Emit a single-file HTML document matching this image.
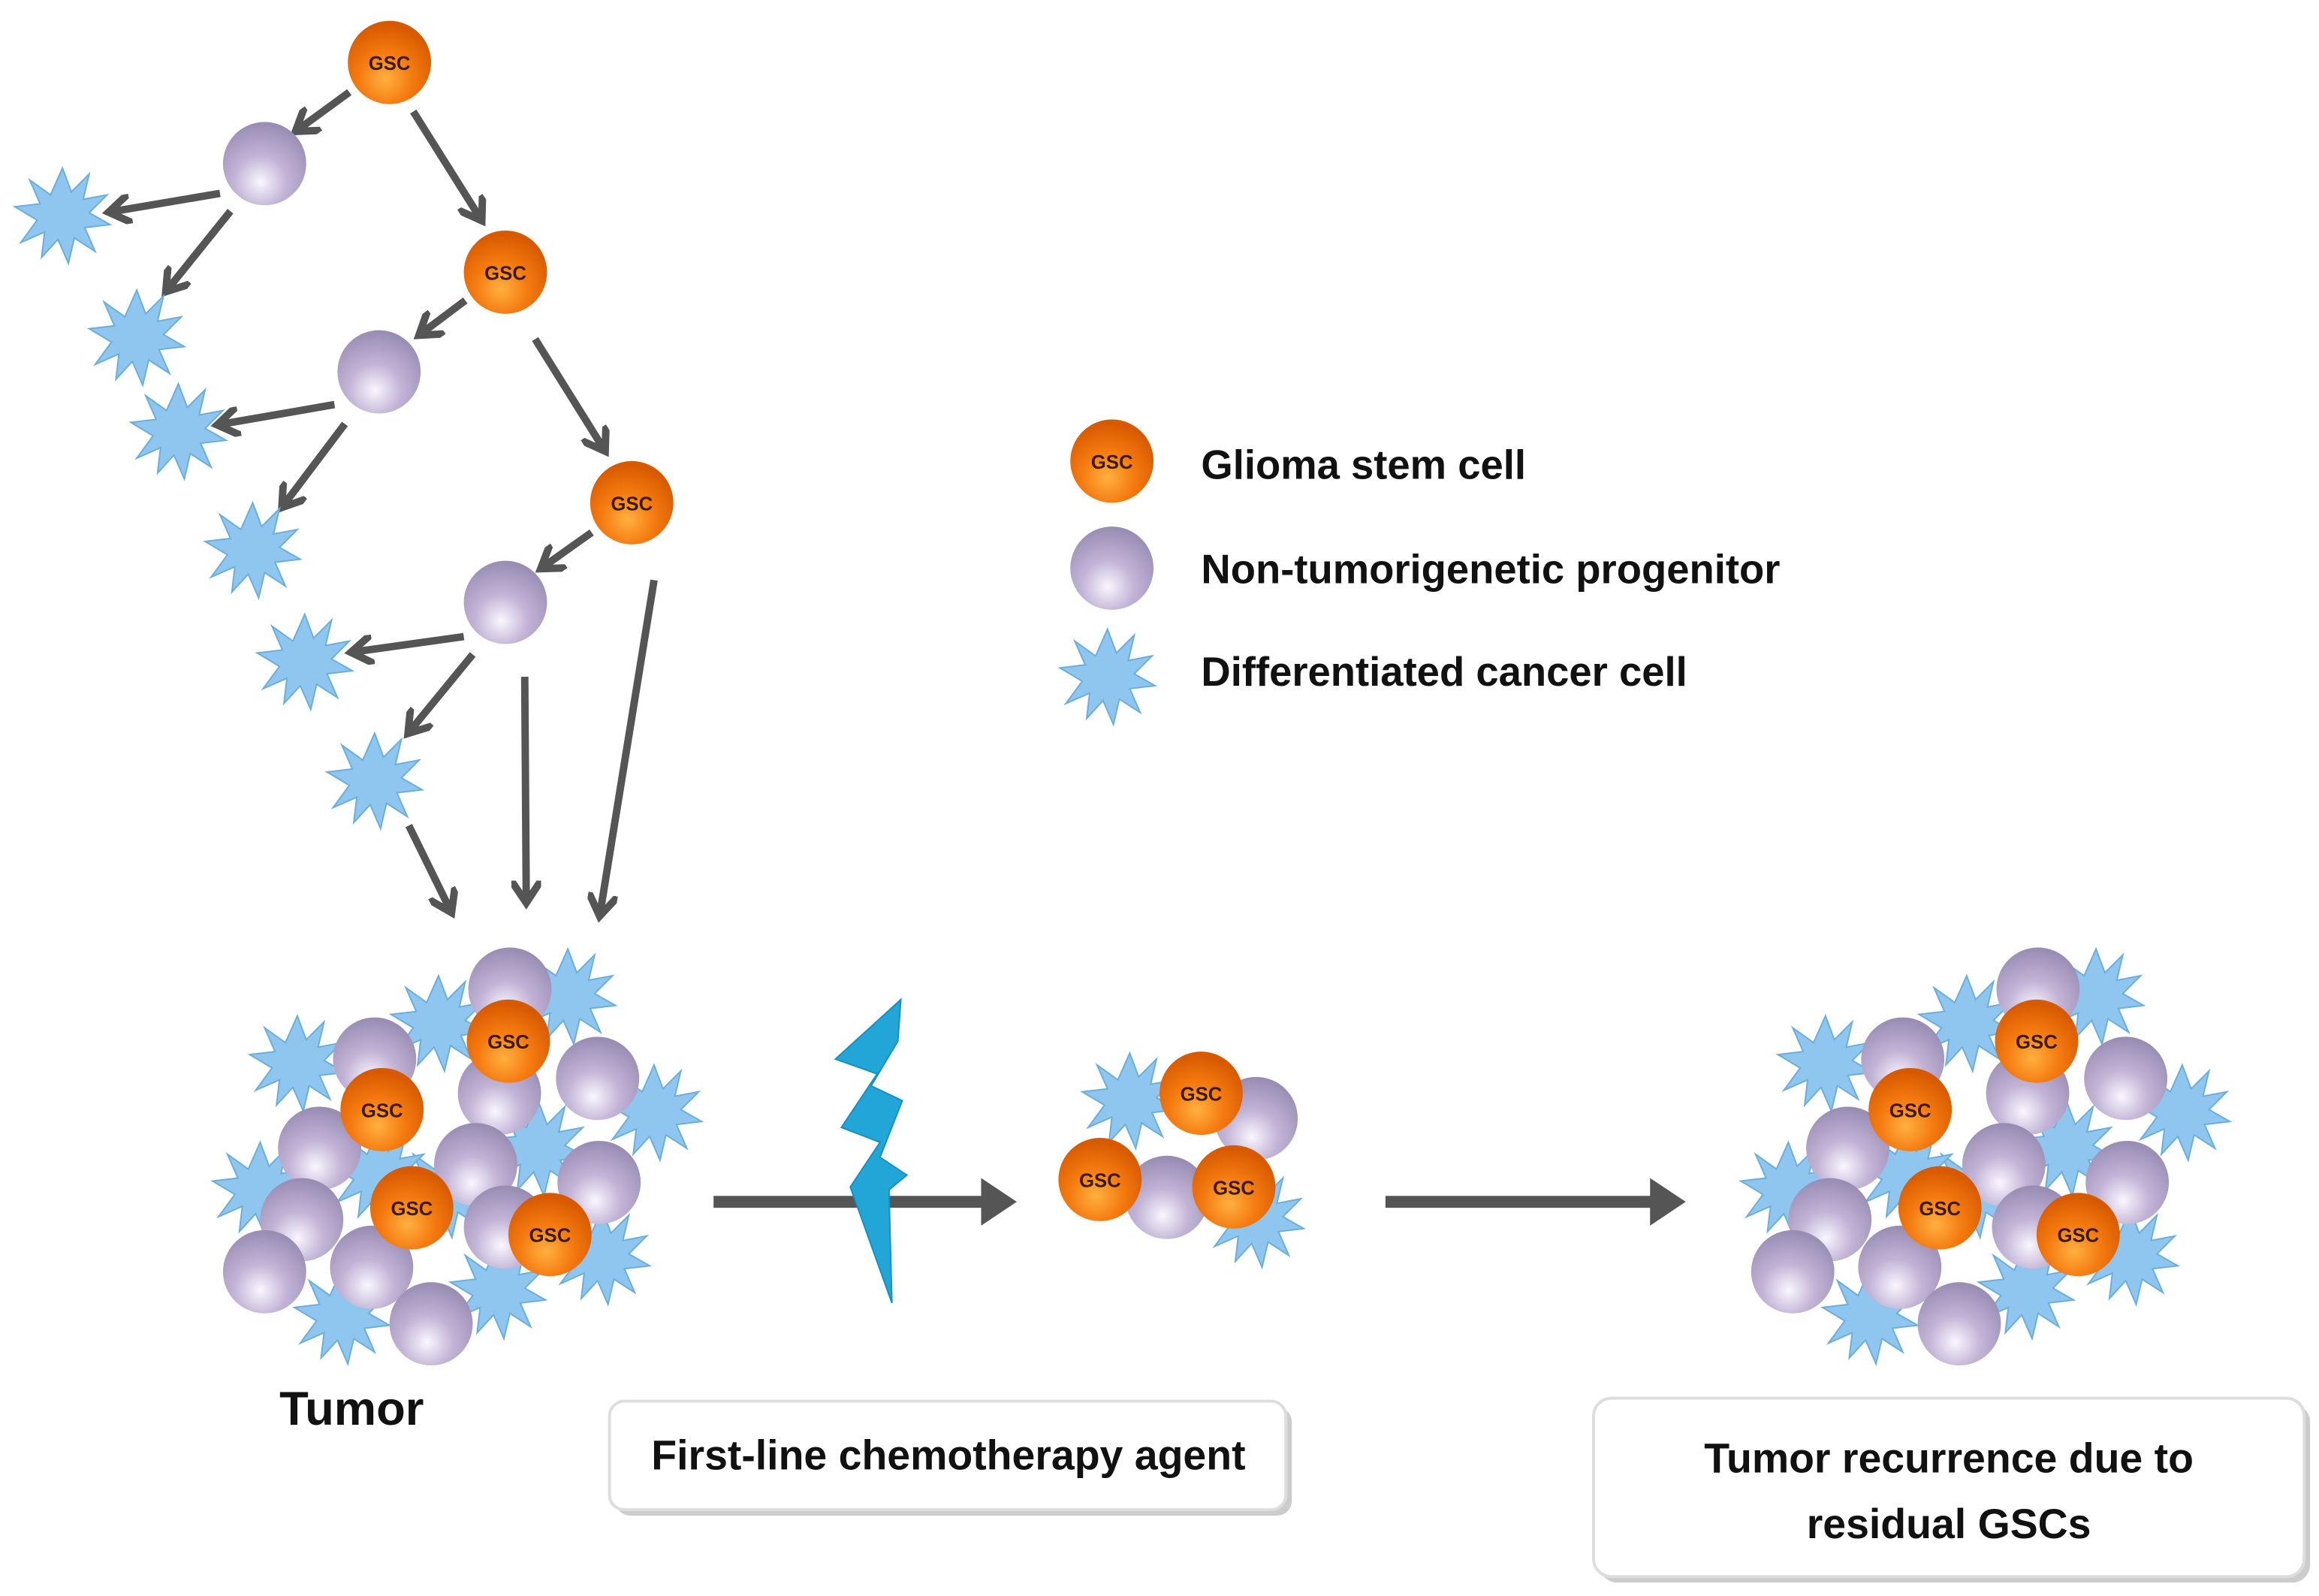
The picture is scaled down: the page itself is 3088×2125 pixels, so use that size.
<!DOCTYPE html>
<html><head><style>html,body{margin:0;padding:0;background:#fff}svg{display:block}</style></head>
<body>
<svg width="3088" height="2125" viewBox="0 0 1560 1073" preserveAspectRatio="none" xmlns="http://www.w3.org/2000/svg" font-family="Liberation Sans, sans-serif">
<defs>
<radialGradient id="go" cx="0.45" cy="0.7" r="0.65"><stop offset="0" stop-color="#ffb040"/><stop offset="0.5" stop-color="#f47a10"/><stop offset="1" stop-color="#d85a00"/></radialGradient>
<radialGradient id="gp" cx="0.45" cy="0.72" r="0.7"><stop offset="0" stop-color="#fbf6ff"/><stop offset="0.45" stop-color="#c2b4d6"/><stop offset="1" stop-color="#9a8db4"/></radialGradient>
<marker id="ah" markerWidth="4" markerHeight="4" refX="2.2" refY="2" orient="auto" markerUnits="strokeWidth"><path d="M0,0 L3,2 L0,4" fill="none" stroke="#555" stroke-width="1"/></marker>
<marker id="ah2" markerWidth="4" markerHeight="4" refX="1" refY="2" orient="auto" markerUnits="strokeWidth"><path d="M0,0 L3,2 L0,4 Z" fill="#555"/></marker>
<g id="g"><circle r="28" fill="url(#go)"/><text y="5" text-anchor="middle" font-size="13" font-weight="bold" fill="#3a1a00">GSC</text></g>
<g id="p"><circle r="28" fill="url(#gp)"/></g>
<polygon id="s" fill="#8ec6ef" stroke="#6aaedc" stroke-width="1" points="0,-32 6,-16 18,-28 14,-11 30,-14 18,-2 32,6 15,8 22,24 8,15 4,32 -3,16 -14,28 -12,11 -28,18 -17,3 -32,-6 -15,-8 -22,-24 -8,-14"/>
<g id="cl">
<use href="#s" x="200" y="715"/><use href="#s" x="295" y="688"/><use href="#s" x="382" y="670"/><use href="#s" x="440" y="748"/><use href="#s" x="362" y="772"/><use href="#s" x="175" y="800"/><use href="#s" x="300" y="800"/><use href="#s" x="230" y="885"/><use href="#s" x="335" y="868"/><use href="#s" x="405" y="845"/><use href="#s" x="255" y="790"/>
<use href="#p" x="343" y="665"/><use href="#p" x="252" y="712"/><use href="#p" x="402" y="725"/><use href="#p" x="336" y="735"/><use href="#p" x="215" y="772"/><use href="#p" x="320" y="783"/><use href="#p" x="403" y="795"/><use href="#p" x="203" y="820"/><use href="#p" x="340" y="825"/><use href="#p" x="178" y="855"/><use href="#p" x="250" y="852"/><use href="#p" x="290" y="890"/>
<use href="#g" x="342" y="700"/><use href="#g" x="257" y="746"/><use href="#g" x="277" y="812"/><use href="#g" x="370" y="830"/>
</g>
</defs>
<g stroke="#555" stroke-width="5" marker-end="url(#ah)" fill="none">
<line x1="235" y1="62" x2="202" y2="86"/><line x1="278" y1="75" x2="322" y2="145"/>
<line x1="148" y1="130" x2="77" y2="142"/><line x1="155" y1="142" x2="114" y2="193"/>
<line x1="313" y1="202" x2="285" y2="223"/><line x1="360" y1="228" x2="405" y2="300"/>
<line x1="225" y1="272" x2="150" y2="285"/><line x1="232" y1="285" x2="192" y2="338"/>
<line x1="398" y1="358" x2="367" y2="380"/><line x1="312" y1="428" x2="240" y2="438"/><line x1="318" y1="440" x2="277" y2="490"/>
<line x1="275" y1="555" x2="302" y2="610"/><line x1="353" y1="455" x2="354" y2="603"/><line x1="440" y1="390" x2="404" y2="612"/>
</g>
<use href="#g" x="262" y="42"/><use href="#p" x="178" y="110"/><use href="#s" x="42" y="145"/><use href="#s" x="92" y="227"/>
<use href="#g" x="340" y="183"/><use href="#p" x="255" y="250"/><use href="#s" x="120" y="290"/><use href="#s" x="170" y="370"/>
<use href="#g" x="425" y="338"/><use href="#p" x="340" y="405"/><use href="#s" x="205" y="445"/><use href="#s" x="252" y="525"/>
<use href="#g" x="748" y="310"/><use href="#p" x="748" y="382"/><use href="#s" x="745" y="455"/>
<g font-size="27.5" font-weight="bold" fill="#111">
<text x="808" y="322">Glioma stem cell</text><text x="808" y="392">Non-tumorigenetic progenitor</text><text x="808" y="461">Differentiated cancer cell</text>
<text x="188" y="958" font-size="32">Tumor</text>
</g>
<use href="#cl"/>
<use href="#cl" x="1028" y="0"/>
<use href="#s" x="760" y="740"/><use href="#s" x="845" y="820"/>
<use href="#p" x="845" y="752"/><use href="#p" x="785" y="805"/>
<use href="#g" x="808" y="735"/><use href="#g" x="740" y="793"/><use href="#g" x="830" y="798"/>
<g stroke="#555" stroke-width="8" marker-end="url(#ah2)"><line x1="480" y1="808" x2="668" y2="808"/><line x1="932" y1="808" x2="1118" y2="808"/></g>
<polygon fill="#22a6d8" stroke="#1590c0" stroke-width="1" points="606,672 562,712 590,722 566,758 592,768 572,798 600,876 598,800 610,790 592,778 607,740 586,730 604,700"/>
<rect x="414" y="946" width="455" height="73" rx="10" fill="#ccc"/>
<rect x="410" y="942" width="455" height="73" rx="10" fill="#fff" stroke="#ddd" stroke-width="2"/>
<text x="638" y="988" text-anchor="middle" font-size="28" font-weight="bold" fill="#111">First-line chemotherapy agent</text>
<rect x="1076" y="944" width="478" height="120" rx="12" fill="#ccc"/>
<rect x="1072" y="940" width="478" height="120" rx="12" fill="#fff" stroke="#ddd" stroke-width="2"/>
<text x="1311" y="990" text-anchor="middle" font-size="28" font-weight="bold" fill="#111">Tumor recurrence due to</text>
<text x="1311" y="1034" text-anchor="middle" font-size="28" font-weight="bold" fill="#111">residual GSCs</text>
</svg>
</body></html>
